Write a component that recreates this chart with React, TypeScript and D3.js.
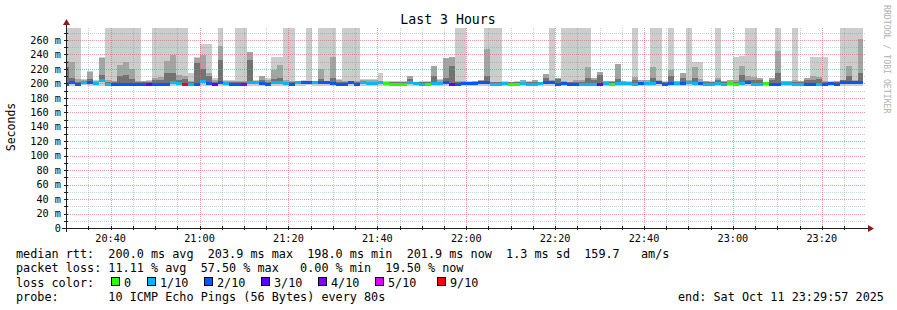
import React from "react";
import * as d3 from "d3";

const TITLE = "Last 3 Hours";
const START_TIME = new Date(2025, 9, 11, 20, 29, 57);
const END_TIME = new Date(2025, 9, 11, 23, 29, 57);
const FIRST_BIN = new Date(2025, 9, 11, 20, 29, 23);
const STEP_SECONDS = 80;
const Y_MAX = 276.6;

// median rtt per 80 s bin (ms)
const median = [
  198.5, 201.8, 198.5, 201, 201, 200, 203.9, 198, 198.5, 198.5,
  198.5, 198.5, 198.5, 198.5, 199, 198.5, 198.5, 199, 201, 200,
  198.5, 198, 199, 203, 200, 198.5, 201, 200, 198.5, 199,
  198, 201.8, 201.8, 200, 199, 201, 201.8, 200, 198.5, 201,
  201, 201, 201, 201.8, 201, 200, 198.5, 199, 201, 198.5,
  201, 200, 200, 201, 200, 199, 198.2, 199, 201, 200.5,
  198.5, 199, 200, 200, 201, 198.5, 198, 200, 200, 200,
  201, 201, 199, 198, 200, 199, 198.5, 200, 199, 199,
  200, 201, 201, 199, 200, 199, 198.3, 199, 198.5, 199,
  199, 200, 198.8, 200, 200, 200, 199, 200, 200, 200,
  201, 199, 200, 200, 200, 201, 200, 200, 198.5, 198,
  200, 198.5, 200, 199, 200, 201, 199, 198.5, 200, 198.5,
  198, 200, 200, 198.5, 198.5, 198.5, 198.5, 199, 199, 200,
  199, 201, 201.8, 201, 201.9,
];

// lost pings out of 10 per bin
const loss = [
  2, 2, 2, 1, 2, 1, 1, 1, 2, 2,
  2, 2, 2, 2, 3, 2, 2, 2, 1, 1,
  9, 1, 2, 1, 2, 3, 2, 1, 2, 2,
  4, 1, 1, 2, 2, 1, 1, 1, 2, 1,
  2, 2, 1, 2, 2, 2, 2, 2, 2, 2,
  1, 1, 1, 1, 0, 0, 0, 0, 1, 1,
  1, 0, 1, 1, 2, 3, 2, 2, 2, 2,
  2, 2, 1, 1, 1, 0, 0, 1, 1, 1,
  1, 2, 2, 2, 2, 2, 2, 1, 1, 1,
  3, 1, 0, 1, 1, 1, 1, 2, 1, 1,
  2, 2, 2, 1, 2, 1, 1, 2, 1, 1,
  1, 1, 0, 0, 1, 2, 1, 1, 0, 2,
  2, 1, 1, 1, 1, 2, 2, 1, 2, 2,
  2, 2, 2, 2, 2,
];

// outermost smoke (slowest ping), ms
const smokeMax = [
  290, 290, 290, 206, 217, 204, 236, 290, 290, 290,
  290, 290, 290, 203.5, 204, 290, 290, 290, 290, 290,
  290, 215, 236, 254, 254, 207, 290, 204, 204, 290,
  290, 243, 205, 210, 208, 236, 236, 290, 290, 203.5,
  204, 290, 203, 290, 290, 290, 206, 290, 290, 290,
  206, 206, 206, 215, 203.5, 203, 203.5, 203.5, 210, 202.5,
  203.5, 203.5, 224, 206, 235, 236, 290, 290, 203, 203.5,
  204.5, 290, 290, 290, 203, 202.5, 203, 205, 203, 205,
  202.5, 213, 290, 208, 290, 290, 290, 290, 290, 208,
  216, 203.5, 203.5, 227, 203.5, 203, 290, 205, 205, 290,
  290, 203, 290, 203.5, 215, 290, 229.5, 229.5, 203.5, 203,
  290, 203.5, 205, 236, 238, 290, 290, 208, 202.5, 208,
  290, 203.5, 203.5, 290, 203.5, 208, 236, 236, 236, 203,
  203.5, 290, 290, 290, 290,
];

// second smoke band, ms
const smokeMid = [
  231, 229.5, 206, 204, 216, 203, 235, 204, 203, 225,
  229.5, 220, 203, 203, 203, 208, 209, 231, 239, 212,
  210, 203, 235, 239, 215, 205, 252, 203, 203, 203,
  203, 243, 203, 210, 205, 219, 225, 204, 203, 203,
  203, 203, 202.5, 220, 203, 236, 204, 203, 203, 203,
  204, 204, 204, 203, 202.5, 202.5, 202.5, 202.5, 210, 202,
  202.5, 202.5, 224, 204, 235, 236, 203, 203, 202.5, 203,
  204, 248, 202.5, 202.5, 202.5, 202, 202.5, 205, 202.5, 205,
  202, 213, 204, 208, 203, 202.5, 205, 205, 223, 208,
  216, 203, 203, 227, 203, 202.5, 209, 205, 205, 223,
  205, 202.5, 219, 203, 215, 205, 222, 206, 203, 202.5,
  208, 203, 205, 205, 224, 210, 209, 208, 202, 208,
  245, 203, 203, 205, 203, 208, 210, 209, 203, 202.5,
  203, 205, 224, 205, 262,
];

// inner smoke band, ms
const smokeDark = [
  222, 208, 202, 202, 206, 202, 212, 202, 202, 210,
  212, 206, 202, 202, 202, 204, 204, 215, 215, 205,
  206, 202, 228, 220, 210, 202, 232, 202, 202, 202,
  202, 233, 202, 204, 202, 206, 208, 202, 202, 202,
  202, 202, 202, 206, 202, 208, 202, 202, 202, 202,
  202, 202, 202, 202, 202, 202, 202, 202, 206, 202,
  202, 202, 210, 202, 207, 224, 202, 202, 202, 202,
  203, 210, 202, 202, 202, 202, 202, 202, 202, 202,
  202, 207, 202, 206, 202, 202, 202, 202, 208, 204,
  212, 202, 202, 206, 202, 202, 204, 202, 202, 208,
  202, 202, 210, 202, 207, 202, 208, 202, 202, 202,
  205, 202, 202, 202, 211, 204, 204, 204, 202, 204,
  215, 202, 202, 202, 202, 204, 205, 206, 202, 202,
  202, 204, 210, 202, 215,
];

// fastest ping per bin, ms
const smokeMin = [
  197, 196.5, 197, 197.5, 197, 197, 197, 196.5, 197, 197,
  197, 197, 197, 197, 197, 197, 197.5, 197, 197, 197,
  197, 196, 197, 197, 197, 197, 197, 197, 197, 197,
  196.5, 197, 197, 197, 197, 197, 197, 197, 197, 197,
  197, 197.5, 197, 197, 197, 197, 197, 197, 197, 197,
  197, 197, 197, 197, 197, 197, 196.5, 197, 197, 197,
  196.5, 197, 197, 197, 197, 197, 196.5, 197, 197, 197,
  197, 197, 197, 196.5, 197, 197, 197, 197, 197, 197,
  197, 197, 197, 197, 197, 197, 197, 197, 197, 197,
  197, 197, 197, 197, 197, 197, 197, 197, 197, 197,
  197, 197, 197, 197, 197, 197, 197, 197, 197, 196.5,
  197, 197, 197, 197, 197, 197, 197, 197, 197, 197,
  196.5, 197, 197, 197, 197, 197, 197, 197, 197, 197,
  197, 197, 197, 197, 197,
];

const lossLevels = [0, 1, 2, 3, 4, 5, 9];
const lossLabels = ["0", "1/10", "2/10", "3/10", "4/10", "5/10", "9/10"];
const lossColors = ["#26ff00", "#00b8ff", "#0059ff", "#5e00ff", "#7e00ff", "#dd00ff", "#ff0000"];

const yTickValues = [0, 20, 40, 60, 80, 100, 120, 140, 160, 180, 200, 220, 240, 260];

const legendRows = [
  "median rtt:  200.0 ms avg  203.9 ms max  198.0 ms min  201.9 ms now  1.3 ms sd  159.7   am/s",
  "packet loss: 11.11 % avg  57.50 % max   0.00 % min  19.50 % now",
  "loss color:",
  "probe:       10 ICMP Echo Pings (56 Bytes) every 80s",
];
const endLabel = "end: Sat Oct 11 23:29:57 2025";
const sideLabel = "RRDTOOL / TOBI OETIKER";
const yAxisLabel = "Seconds";

const FONT = "'DejaVu Sans Mono', monospace";
const W = 897;
const H = 310;
const L = 66, R = 866, T = 28, B = 228;

function colorForLoss(n: number) {
  let idx = 0;
  lossLevels.forEach((lv, i) => {
    if (n >= lv) idx = i;
  });
  return lossColors[idx];
}

export default function App() {
  const x = d3.scaleTime().domain([START_TIME, END_TIME]).range([L, R]);
  const y = d3.scaleLinear().domain([0, Y_MAX]).range([B, T]);

  const bins = median.map((m, i) => {
    const t0 = d3.timeSecond.offset(FIRST_BIN, i * STEP_SECONDS);
    const t1 = d3.timeSecond.offset(FIRST_BIN, (i + 1) * STEP_SECONDS);
    return { i, x0: x(t0), x1: x(t1), m };
  });

  const minorX = x.ticks(d3.timeMinute.every(5) as any);
  const majorX = x.ticks(d3.timeMinute.every(20) as any);
  const minorY = d3.range(10, Y_MAX, 10);
  const fmt = d3.timeFormat("%H:%M");

  const legendY = [257.5, 272, 286.5, 301];
  const lossBoxX = [111, 147, 204, 261, 318, 375, 437];

  const minorColor = "rgba(140,140,140,0.42)";
  const majorColor = "rgba(255,90,90,0.45)";

  return (
    <svg
      width={W}
      height={H}
      style={{ position: "fixed", left: 0, top: 0, background: "#fff" }}
      fontFamily={FONT}
    >
      <rect x={0} y={0} width={W} height={H} fill="#ffffff" />
      <defs>
        <clipPath id="plot">
          <rect x={L} y={T} width={R - L} height={B - T} />
        </clipPath>
      </defs>

      {/* smoke */}
      <g clipPath="url(#plot)" shapeRendering="crispEdges">
        {bins.map((b) => (
          <rect
            key={"s1" + b.i}
            x={b.x0}
            width={b.x1 - b.x0}
            y={y(smokeMax[b.i])}
            height={y(smokeMin[b.i]) - y(smokeMax[b.i])}
            fill="#cccccc"
          />
        ))}
        {bins.map((b) => (
          <rect
            key={"s2" + b.i}
            x={b.x0}
            width={b.x1 - b.x0}
            y={y(smokeMid[b.i])}
            height={Math.max(0, y(b.m) - y(smokeMid[b.i]))}
            fill="#a4a4a4"
          />
        ))}
        {bins.map((b) => (
          <rect
            key={"s3" + b.i}
            x={b.x0}
            width={b.x1 - b.x0}
            y={y(smokeDark[b.i])}
            height={Math.max(0, y(b.m) - y(smokeDark[b.i]))}
            fill="#727272"
          />
        ))}
      </g>

      {/* grid */}
      <g strokeWidth={1} strokeDasharray="1,1" shapeRendering="crispEdges">
        {minorX.map((t, i) => (
          <line key={"gx" + i} x1={x(t) + 0.5} x2={x(t) + 0.5} y1={T} y2={B} stroke={minorColor} />
        ))}
        {minorY.map((v, i) => (
          <line key={"gy" + i} x1={L} x2={R} y1={y(v) + 0.5} y2={y(v) + 0.5} stroke={minorColor} />
        ))}
        {majorX.map((t, i) => (
          <line key={"mx" + i} x1={x(t) + 0.5} x2={x(t) + 0.5} y1={T} y2={B} stroke={majorColor} />
        ))}
        {yTickValues.slice(1).map((v, i) => (
          <line key={"my" + i} x1={L} x2={R} y1={y(v) + 0.5} y2={y(v) + 0.5} stroke={majorColor} />
        ))}
      </g>

      {/* median line */}
      <g clipPath="url(#plot)" shapeRendering="crispEdges">
        {bins.map((b) => (
          <rect
            key={"m" + b.i}
            x={b.x0}
            width={b.x1 - b.x0}
            y={y(b.m) - 1.5}
            height={3}
            fill={colorForLoss(loss[b.i])}
          />
        ))}
      </g>

      {/* axes */}
      <g shapeRendering="crispEdges" stroke="#202020">
        {minorX.map((t, i) => (
          <line key={"tx" + i} x1={x(t) + 0.5} x2={x(t) + 0.5} y1={B - 2} y2={B + 2} />
        ))}
        {minorY.map((v, i) => (
          <line key={"ty" + i} x1={L - 2} x2={L + 2} y1={y(v) + 0.5} y2={y(v) + 0.5} />
        ))}
        <line x1={L - 4} x2={R + 3} y1={B + 0.5} y2={B + 0.5} />
        <line x1={L + 0.5} x2={L + 0.5} y1={B + 4} y2={T - 4} />
      </g>
      <path d={`M${R + 2},${B - 3} L${R + 8},${B + 0.5} L${R + 2},${B + 4} Z`} fill="#8b1a1a" />
      <path d={`M${L - 3},${T - 3} L${L + 0.5},${T - 9} L${L + 4},${T - 3} Z`} fill="#8b1a1a" />

      {/* tick labels */}
      <g fontSize={10.2} fill="#000">
        {yTickValues.map((v) => (
          <text key={"yl" + v} x={61} y={y(v) + 3.7} textAnchor="end">
            {v === 0 ? "0" : `${v} m`}
          </text>
        ))}
        {majorX.map((t, i) => (
          <text key={"xl" + i} x={x(t)} y={242} textAnchor="middle">
            {fmt(t)}
          </text>
        ))}
      </g>

      {/* title & labels */}
      <text x={448} y={24} textAnchor="middle" fontSize={13.2} fill="#000">
        {TITLE}
      </text>
      <text
        transform={`translate(15,127) rotate(-90)`}
        textAnchor="middle"
        fontSize={11.5}
        fill="#000"
      >
        {yAxisLabel}
      </text>
      <text
        transform={`translate(884,5) rotate(90)`}
        fontSize={8.2}
        fill="#b0b0b0"
      >
        {sideLabel}
      </text>

      {/* legend */}
      <g fontSize={11.8} fill="#000" style={{ whiteSpace: "pre" }}>
        {legendRows.map((r, i) => (
          <text key={"lg" + i} x={16} y={legendY[i]} xmlSpace="preserve">
            {r}
          </text>
        ))}
        {lossLabels.map((lab, i) => (
          <g key={"lb" + i}>
            <rect
              x={lossBoxX[i] + 0.5}
              y={277.5}
              width={8}
              height={8}
              fill={lossColors[i]}
              stroke="#000"
              strokeWidth={1}
              shapeRendering="crispEdges"
            />
            <text x={lossBoxX[i] + 13} y={legendY[2]}>
              {lab}
            </text>
          </g>
        ))}
        <text x={678} y={legendY[3]}>
          {endLabel}
        </text>
      </g>
    </svg>
  );
}
